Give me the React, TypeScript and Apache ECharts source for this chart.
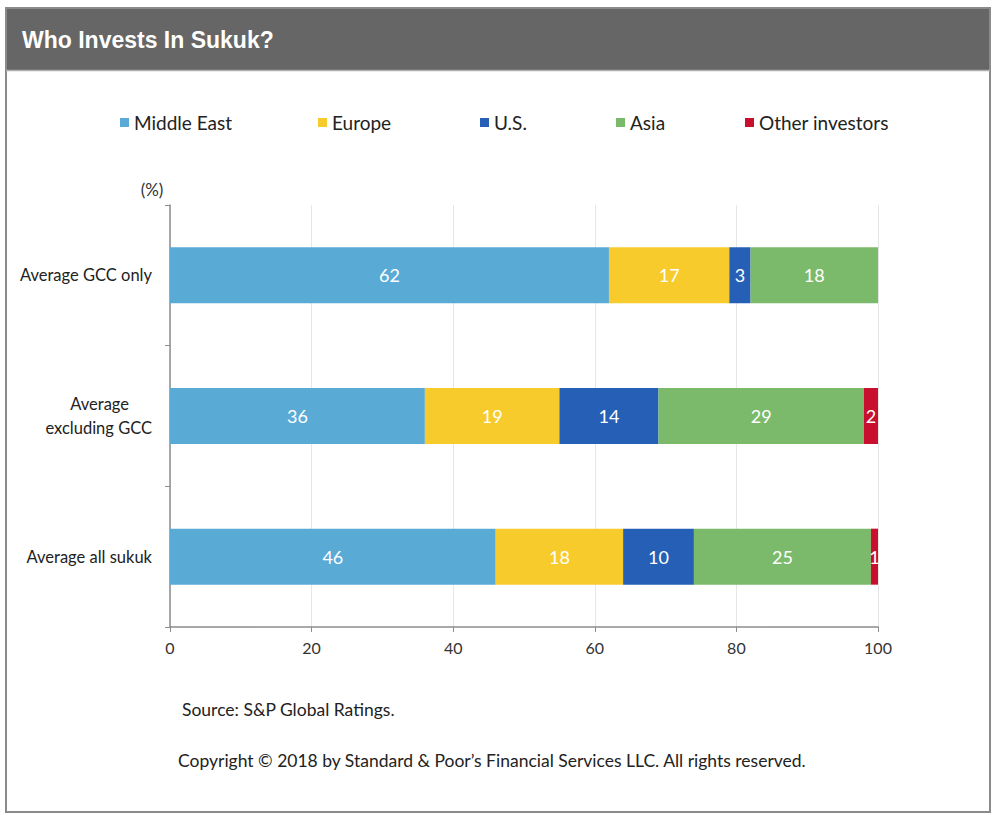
import React, { useEffect, useRef } from "react";
import * as echarts from "echarts";

const categories = ["Average GCC only", "Average\nexcluding GCC", "Average all sukuk"];
const seriesNames = ["Middle East", "Europe", "U.S.", "Asia", "Other investors"];
const middleEast = [62, 36, 46];
const europe = [17, 19, 18];
const us = [3, 14, 10];
const asia = [18, 29, 25];
const other = [0, 2, 1];
const xTicks = [0, 20, 40, 60, 80, 100];

const colors = ["#5AAAD6", "#F8CB2C", "#2660B6", "#7BBA6B", "#C8102E"];
const legendLeft = [115, 313, 475, 611, 740];

export default function App() {
  const ref = useRef<HTMLDivElement>(null);
  useEffect(() => {
    if (!ref.current) return;
    const chart = echarts.init(ref.current, undefined, { renderer: "svg" });
    const font = "Lato, 'Open Sans', sans-serif";
    const values = [middleEast, europe, us, asia, other];
    const option: any = {
      animation: false,
      backgroundColor: "#ffffff",
      legend: seriesNames.map((n, i) => ({
        data: [n],
        left: legendLeft[i],
        top: 108,
        itemWidth: 9,
        itemHeight: 9,
        icon: "rect",
        textStyle: { fontFamily: font, fontSize: 19, color: "#222" },
      })),
      grid: { left: 170, right: 122, top: 205, bottom: 192, containLabel: false },
      xAxis: {
        type: "value",
        min: xTicks[0],
        max: xTicks[xTicks.length - 1],
        interval: 20,
        axisLine: { show: true, lineStyle: { color: "#8c8c8c", width: 1.5 } },
        axisTick: { show: true, length: 5, lineStyle: { color: "#8c8c8c" } },
        axisLabel: { margin: 12, fontFamily: font, fontSize: 16, color: "#333" },
        splitLine: { show: true, lineStyle: { color: "#e6e6e6", width: 1 } },
      },
      yAxis: {
        type: "category",
        data: categories,
        inverse: true,
        axisLine: { show: true, lineStyle: { color: "#8c8c8c", width: 1.5 } },
        axisTick: { show: true, length: 5, lineStyle: { color: "#8c8c8c" } },
        axisLabel: {
          margin: 18,
          fontFamily: font,
          fontSize: 16.5,
          color: "#222",
          lineHeight: 24,
          formatter: (v: string) => {
            if (v.indexOf("\n") >= 0) {
              const parts = v.split("\n");
              return `{a|${parts[0]}}\n{b|${parts[1]}}`;
            }
            return v;
          },
          rich: {
            a: { fontFamily: font, fontSize: 16.5, color: "#222", padding: [0, 23, 0, 0], lineHeight: 24 },
            b: { fontFamily: font, fontSize: 16.5, color: "#222", lineHeight: 24 },
          },
        },
        splitLine: { show: false },
      },
      series: seriesNames.map((n, i) => ({
        name: n,
        type: "bar",
        stack: "total",
        barWidth: 56,
        itemStyle: { color: colors[i] },
        label: {
          show: true,
          position: "inside",
          color: "#ffffff",
          fontFamily: font,
          fontSize: 18,
          formatter: (p: any) => (p.value ? String(p.value) : ""),
        },
        data: values[i],
      })),
      graphic: [
        { type: "rect", shape: { x: 6, y: 8, width: 984, height: 804 }, style: { fill: "none", stroke: "#8a8a8a", lineWidth: 2 }, z: 10 },
        { type: "rect", shape: { x: 6, y: 8, width: 984, height: 62 }, style: { fill: "#666666" }, z: 9 },
        { type: "line", shape: { x1: 6, y1: 70.5, x2: 990, y2: 70.5 }, style: { stroke: "#b0b0b0", lineWidth: 1.5 }, z: 10 },
        { type: "text", x: 22, y: 40, style: { text: "Who Invests In Sukuk?", fill: "#ffffff", font: "bold 23px 'Liberation Sans', Arial, sans-serif", textVerticalAlign: "middle" }, z: 11 },
        { type: "text", x: 152, y: 189, style: { text: "(%)", fill: "#333", font: `17px ${font}`, textAlign: "center", textVerticalAlign: "middle" } },
        { type: "text", x: 182, y: 709, style: { text: "Source: S&P Global Ratings.", fill: "#222", font: `17.5px ${font}`, textVerticalAlign: "middle" } },
        { type: "text", x: 178, y: 760, style: { text: "Copyright \u00A9 2018 by Standard & Poor\u2019s Financial Services LLC. All rights reserved.", fill: "#222", font: `17.5px ${font}`, textVerticalAlign: "middle" } },
      ],
    };
    chart.setOption(option);
    return () => chart.dispose();
  }, []);
  return <div ref={ref} style={{ position: "absolute", left: 0, top: 0, width: 1000, height: 819 }} />;
}
